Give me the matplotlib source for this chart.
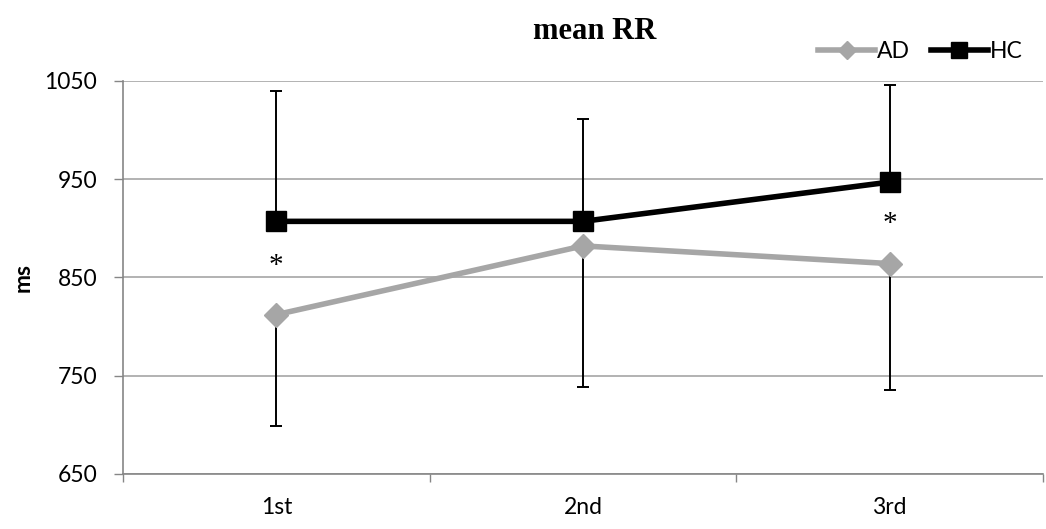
import matplotlib
matplotlib.use("Agg")
import matplotlib.pyplot as plt
import numpy as np

sessions = ["1st", "2nd", "3rd"]
ad_mean = [812, 882, 864]
ad_err_low = [113, 144, 129]
hc_mean = [907, 907, 947]
hc_err_up = [133, 104, 99]
star_pos = [(0, 862), (2, 904)]

plt.rcParams['font.family'] = ['Lato', 'DejaVu Sans']

fig = plt.figure(figsize=(10.46, 5.29), dpi=100)
ax = fig.add_axes([0.1176, 0.1045, 0.8795, 0.7425])

x = np.arange(len(sessions))

# error bars (one-sided)
ax.errorbar(x, ad_mean, yerr=[ad_err_low, [0]*3], fmt='none', ecolor='black',
            elinewidth=1.4, capsize=4.5, capthick=1.4, zorder=2)
ax.errorbar(x, hc_mean, yerr=[[0]*3, hc_err_up], fmt='none', ecolor='black',
            elinewidth=1.4, capsize=4.5, capthick=1.4, zorder=2)

l_ad, = ax.plot(x, ad_mean, color='#a6a6a6', lw=4, marker='D', ms=12,
                label='AD', zorder=3)
l_hc, = ax.plot(x, hc_mean, color='black', lw=4, marker='s', ms=15,
                label='HC', zorder=4)

for xi, yi in star_pos:
    ax.text(xi, yi, '*', ha='center', va='center', fontsize=21,
            family='Liberation Serif')

ax.set_xlim(-0.5, 2.5)
ax.set_ylim(650, 1050)
ax.set_yticks([650, 750, 850, 950, 1050])
ax.set_xticks(x)
ax.set_xticklabels(sessions, fontsize=16.5)
ax.set_xticks([-0.5, 0.5, 1.5, 2.5], minor=True)
ax.tick_params(axis='x', which='major', length=0, pad=17)
ax.tick_params(axis='x', which='minor', length=6, color='#868686', width=1)
ax.tick_params(axis='y', length=6.5, color='#868686', width=1, labelsize=16.5, pad=12)
ax.yaxis.grid(True, color='#a6a6a6', lw=1.2)
ax.set_axisbelow(True)
for s in ['top', 'right']:
    ax.spines[s].set_visible(False)
ax.spines['left'].set_color('#868686')
ax.spines['bottom'].set_color('#868686')
ax.spines['left'].set_linewidth(1.2)
ax.spines['bottom'].set_linewidth(1.2)

ax.set_ylabel('ms', fontsize=16.5, fontweight='bold')
ax.yaxis.set_label_coords(-0.097, 0.5)
fig.text(0.569, 0.941, 'mean RR', ha='center', va='center', fontsize=22,
         fontweight='bold', family='Liberation Serif')

leg = fig.legend(handles=[l_ad, l_hc], loc='center right',
                 bbox_to_anchor=(0.993, 0.902), ncol=2, frameon=False,
                 fontsize=16.5, handlelength=2.5, columnspacing=0.9,
                 handletextpad=0.08, markerscale=0.75, borderpad=0.2)

fig.savefig('out.png', dpi=100)
